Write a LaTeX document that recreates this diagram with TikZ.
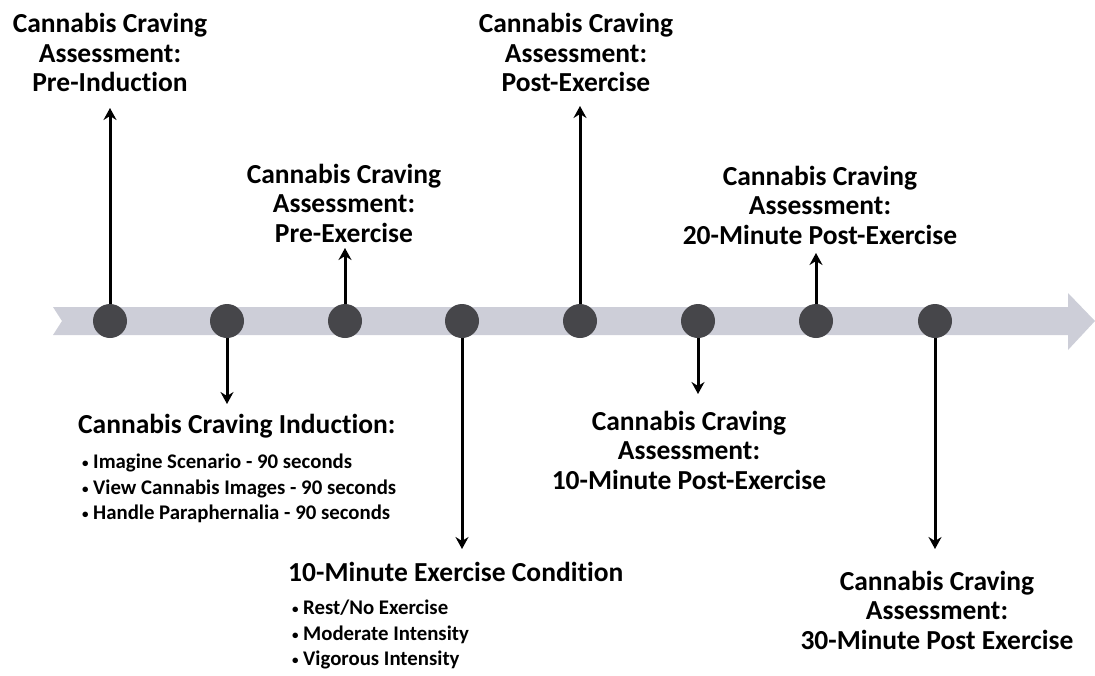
\documentclass[tikz,border=0pt]{standalone}
\usepackage{fontspec}
\setmainfont{Carlito}[Ligatures={NoCommon}]
\usetikzlibrary{arrows.meta}
\definecolor{band}{HTML}{CDCED8}
\definecolor{dot}{HTML}{46464A}
\tikzset{
  dotnode/.style={circle,fill=dot,minimum size=34pt,inner sep=0pt},
  arr/.style={line width=3pt,black,-{Stealth[length=12pt,width=13pt,inset=4pt]}},
  lbl/.style={font=\fontsize{27.5}{29.5}\selectfont\bfseries,align=center,inner sep=0pt,anchor=north},
  ttl/.style={font=\fontsize{27.5}{29.5}\selectfont\bfseries,inner sep=0pt,anchor=north west},
  blist/.style={font=\fontsize{20.8}{25.5}\selectfont\bfseries,align=left,inner sep=0pt,anchor=north west},
}
\newcommand{\bul}{\makebox[11pt][l]{\raisebox{1pt}{\fontsize{13}{13}\selectfont•}}}
\begin{document}
\begin{tikzpicture}[x=1pt,y=-1pt]
\useasboundingbox (0,0) rectangle (1095,675);
% timeline band
\fill[band] (53,307) -- (1068,307) -- (1068,293) -- (1095,321) -- (1068,350) -- (1068,335) -- (53,335) -- (62,321) -- cycle;
% tips
\coordinate (t1) at (110,108);
\coordinate (t2) at (227,404);
\coordinate (t3) at (345,248);
\coordinate (t4) at (462,549);
\coordinate (t5) at (580,106);
\coordinate (t6) at (698,394);
\coordinate (t7) at (816,253);
\coordinate (t8) at (935,549);
% circles (positions)
\foreach \i/\x in {1/110,2/227,3/345,4/462,5/580,6/698,7/816,8/935}
  \coordinate (p\i) at (\x,321);
\foreach \i in {1,...,8}
  \draw[arr] (p\i) -- (t\i);
\foreach \i in {1,...,8}
  \node[dotnode] (c\i) at (p\i) {};
% labels
\node[lbl] (l1) at (110,13.5) {Cannabis Craving\\Assessment:\\Pre-Induction};
\node[lbl] (l3) at (344,163.5) {Cannabis Craving\\Assessment:\\Pre-Exercise};
\node[lbl] (l5) at (576,13.5) {Cannabis Craving\\Assessment:\\Post-Exercise};
\node[lbl] (l7) at (820,165.5) {Cannabis Craving\\Assessment:\\20-Minute Post-Exercise};
\node[lbl] (l6) at (689,410.5) {Cannabis Craving\\Assessment:\\10-Minute Post-Exercise};
\node[lbl] (l8) at (937,570.5) {Cannabis Craving\\Assessment:\\30-Minute Post Exercise};
\node[ttl] (ind) at (78,413.5) {Cannabis Craving Induction:};
\node[blist] (indl) at (82,454) {\bul Imagine Scenario - 90 seconds\\\bul View Cannabis Images - 90 seconds\\\bul Handle Paraphernalia - 90 seconds};
\node[ttl] (ex) at (288,561.5) {10-Minute Exercise Condition};
\node[blist] (exl) at (292,600) {\bul Rest/No Exercise\\\bul Moderate Intensity\\\bul Vigorous Intensity};
\end{tikzpicture}
\end{document}
